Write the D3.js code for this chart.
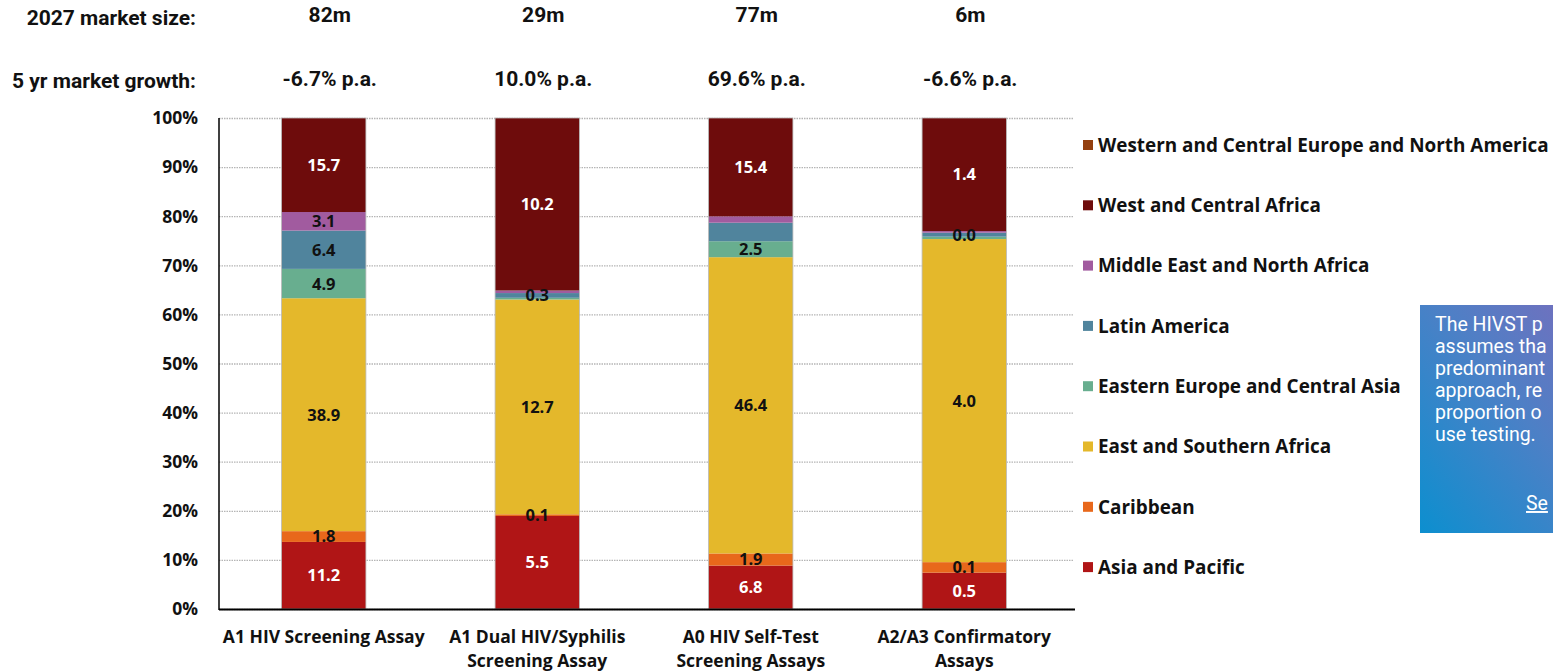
<!DOCTYPE html>
<html>
<head>
<meta charset="utf-8">
<script src="https://cdn.jsdelivr.net/npm/d3@7"></script>
<style>
  html, body { margin: 0; padding: 0; background: #fff; overflow: hidden; }
  svg { display: block; }
</style>
</head>
<body>
<svg id="chart" width="1553" height="672"></svg>
<script>
// ---------------- DATA ----------------
const categories = [
  "A1 HIV Screening Assay",
  "A1 Dual HIV/Syphilis\nScreening Assay",
  "A0 HIV Self-Test\nScreening Assays",
  "A2/A3 Confirmatory\nAssays"
];
const marketSize = ["82m", "29m", "77m", "6m"];
const marketGrowth = ["-6.7% p.a.", "10.0% p.a.", "69.6% p.a.", "-6.6% p.a."];

// series, bottom to top (values in millions)
const seriesNames = [
  "Asia and Pacific",
  "Caribbean",
  "East and Southern Africa",
  "Eastern Europe and Central Asia",
  "Latin America",
  "Middle East and North Africa",
  "West and Central Africa",
  "Western and Central Europe and North America"
];
const asiaPacific   = [11.2, 5.5, 6.8, 0.45];
const caribbean     = [1.8, 0.1, 1.9, 0.13];
const eastSouthAfr  = [38.9, 12.7, 46.4, 4.0];
const eastEurCAsia  = [4.9, 0.1, 2.5, 0.03];
const latinAmerica  = [6.4, 0.28, 2.9, 0.049];
const midEastNAfr   = [3.1, 0.15, 1.0, 0.02];
const westCentAfr   = [15.7, 10.2, 15.4, 1.4];
const westEurNAm    = [0, 0, 0, 0];
const seriesValues = [asiaPacific, caribbean, eastSouthAfr, eastEurCAsia,
                      latinAmerica, midEastNAfr, westCentAfr, westEurNAm];
// which data labels are shown (per series, per category)
const labelShown = [
  [1, 1, 1, 1],
  [1, 1, 1, 1],
  [1, 1, 1, 1],
  [1, 0, 1, 0],
  [1, 1, 0, 1],
  [1, 0, 0, 0],
  [1, 1, 1, 1],
  [0, 0, 0, 0]
];
const yTicks = [0, 0.1, 0.2, 0.3, 0.4, 0.5, 0.6, 0.7, 0.8, 0.9, 1.0];
// note box text, as far as it is visible in the window
const noteLines = [
  "The HIVST p",
  "assumes tha",
  "predominant",
  "approach, re",
  "proportion o",
  "use testing."
];
const noteLink = "Se";

// ---------------- STYLE ----------------
const colors = ["#B01516", "#E8681B", "#E4B82B", "#68AE8F", "#50849D",
                "#A15B9F", "#6E0C0C", "#94400F"];
const labelColors = ["#fff", "#111", "#111", "#111", "#111", "#111", "#fff", "#111"];
const labelFont = "'Open Sans', 'Noto Sans', sans-serif";

const svg = d3.select("#chart");
const plot = { left: 219, right: 1073, top: 118, bottom: 609 };

const x = d3.scaleBand()
  .domain(categories)
  .range([217, 1071])
  .paddingInner(0.605)
  .paddingOuter(0.3025);
const y = d3.scaleLinear().domain([0, 1]).range([plot.bottom, plot.top]);

// stacked shares
const rows = categories.map((c, i) => {
  const row = { cat: c };
  seriesNames.forEach((s, k) => row[s] = seriesValues[k][i]);
  return row;
});
const stack = d3.stack().keys(seriesNames).offset(d3.stackOffsetExpand);
const stacked = stack(rows);

// gridlines
svg.append("g")
  .selectAll("line")
  .data(yTicks)
  .join("line")
  .attr("x1", plot.left).attr("x2", plot.right)
  .attr("y1", d => y(d) + 0.5).attr("y2", d => y(d) + 0.5)
  .attr("stroke", "#b5b5b5")
  .attr("stroke-width", 1.3)
  .attr("stroke-dasharray", "1.5,1");

// bars
const layers = svg.append("g").selectAll("g")
  .data(stacked)
  .join("g")
  .attr("fill", (d, k) => colors[k]);
layers.selectAll("rect")
  .data(d => d.map(p => ({ p, cat: p.data.cat })))
  .join("rect")
  .attr("x", d => x(d.cat))
  .attr("width", x.bandwidth())
  .attr("y", d => y(d.p[1]))
  .attr("height", d => Math.max(0, y(d.p[0]) - y(d.p[1])));

// bar outlines
svg.append("g").selectAll("rect")
  .data(categories)
  .join("rect")
  .attr("x", d => x(d)).attr("width", x.bandwidth())
  .attr("y", y(1)).attr("height", y(0) - y(1))
  .attr("fill", "none").attr("stroke", "#b8b8b8").attr("stroke-width", 0.8);

// data labels
const labelG = svg.append("g");
stacked.forEach((layer, k) => {
  layer.forEach((p, i) => {
    if (!labelShown[k][i]) return;
    const v = seriesValues[k][i];
    labelG.append("text")
      .attr("x", x(categories[i]) + x.bandwidth() / 2)
      .attr("y", (y(p[0]) + y(p[1])) / 2)
      .attr("dy", "0.36em")
      .attr("text-anchor", "middle")
      .attr("font-family", labelFont)
      .attr("font-weight", 700)
      .attr("font-size", 16.5)
      .attr("fill", labelColors[k])
      .text(v.toFixed(1));
  });
});

// axes
svg.append("line")
  .attr("x1", plot.left).attr("x2", plot.left)
  .attr("y1", plot.top).attr("y2", plot.bottom + 1)
  .attr("stroke", "#000").attr("stroke-width", 1.5);
svg.append("line")
  .attr("x1", plot.left).attr("x2", 1075)
  .attr("y1", plot.bottom + 0.5).attr("y2", plot.bottom + 0.5)
  .attr("stroke", "#000").attr("stroke-width", 2);

// y tick labels
svg.append("g").selectAll("text")
  .data(yTicks)
  .join("text")
  .attr("x", 198)
  .attr("y", d => y(d))
  .attr("dy", "0.36em")
  .attr("text-anchor", "end")
  .attr("font-family", labelFont)
  .attr("font-weight", 700)
  .attr("font-size", 17.5)
  .attr("fill", "#111")
  .text(d => d3.format(".0%")(d));

// x labels
const xl = svg.append("g").selectAll("text")
  .data(categories)
  .join("text")
  .attr("x", d => x(d) + x.bandwidth() / 2)
  .attr("y", 643)
  .attr("text-anchor", "middle")
  .attr("font-family", labelFont)
  .attr("font-weight", 700)
  .attr("font-size", 17.5)
  .attr("fill", "#111");
xl.each(function(d) {
  const lines = d.split("\n");
  d3.select(this).selectAll("tspan")
    .data(lines)
    .join("tspan")
    .attr("x", x(d) + x.bandwidth() / 2)
    .attr("dy", (l, j) => j === 0 ? 0 : 24)
    .text(l => l);
});

// header rows
const headFont = "Roboto, 'Noto Sans', sans-serif";
svg.append("text").attr("x", 196).attr("y", 25)
  .attr("text-anchor", "end").attr("font-family", headFont)
  .attr("font-weight", 700).attr("font-size", 21).attr("fill", "#111")
  .text("2027 market size:");
svg.append("text").attr("x", 196).attr("y", 88)
  .attr("text-anchor", "end").attr("font-family", headFont)
  .attr("font-weight", 700).attr("font-size", 21).attr("fill", "#111")
  .text("5 yr market growth:");
svg.append("g").selectAll("text")
  .data(marketSize)
  .join("text")
  .attr("x", (d, i) => x(categories[i]) + x.bandwidth() / 2 + 6)
  .attr("y", 22)
  .attr("text-anchor", "middle").attr("font-family", headFont)
  .attr("font-weight", 700).attr("font-size", 21).attr("fill", "#111")
  .text(d => d);
svg.append("g").selectAll("text")
  .data(marketGrowth)
  .join("text")
  .attr("x", (d, i) => x(categories[i]) + x.bandwidth() / 2 + 6)
  .attr("y", 86)
  .attr("text-anchor", "middle").attr("font-family", headFont)
  .attr("font-weight", 700).attr("font-size", 21).attr("fill", "#111")
  .text(d => d);

// legend (top-down reversed order)
const legendOrder = seriesNames.map((s, k) => k).reverse();
const lg = svg.append("g").selectAll("g")
  .data(legendOrder)
  .join("g")
  .attr("transform", (k, j) => `translate(1083, ${145 + j * 60.3})`);
lg.append("rect")
  .attr("x", 0).attr("y", -5).attr("width", 10).attr("height", 10)
  .attr("fill", k => colors[k]);
lg.append("text")
  .attr("x", 15).attr("y", 0).attr("dy", "0.36em")
  .attr("font-family", labelFont).attr("font-weight", 700)
  .attr("font-size", 18.9).attr("fill", "#111")
  .text(k => seriesNames[k]);

// note box
const defs = svg.append("defs");
const grad = defs.append("linearGradient").attr("id", "noteGrad")
  .attr("x1", "0%").attr("y1", "100%").attr("x2", "100%").attr("y2", "0%");
grad.append("stop").attr("offset", "0%").attr("stop-color", "#0C8FCF");
grad.append("stop").attr("offset", "55%").attr("stop-color", "#4D80C6");
grad.append("stop").attr("offset", "100%").attr("stop-color", "#7A6CBC");
svg.append("rect")
  .attr("x", 1420).attr("y", 305).attr("width", 180).attr("height", 228)
  .attr("fill", "url(#noteGrad)");
svg.append("g").selectAll("text")
  .data(noteLines)
  .join("text")
  .attr("x", 1435)
  .attr("y", (d, i) => 331 + i * 22)
  .attr("font-family", headFont).attr("font-size", 19.5).attr("fill", "#fff")
  .text(d => d);
svg.append("text")
  .attr("x", 1526).attr("y", 510)
  .attr("font-family", headFont).attr("font-size", 19.5).attr("fill", "#fff")
  .attr("text-decoration", "underline")
  .text(noteLink);
</script>
</body>
</html>
